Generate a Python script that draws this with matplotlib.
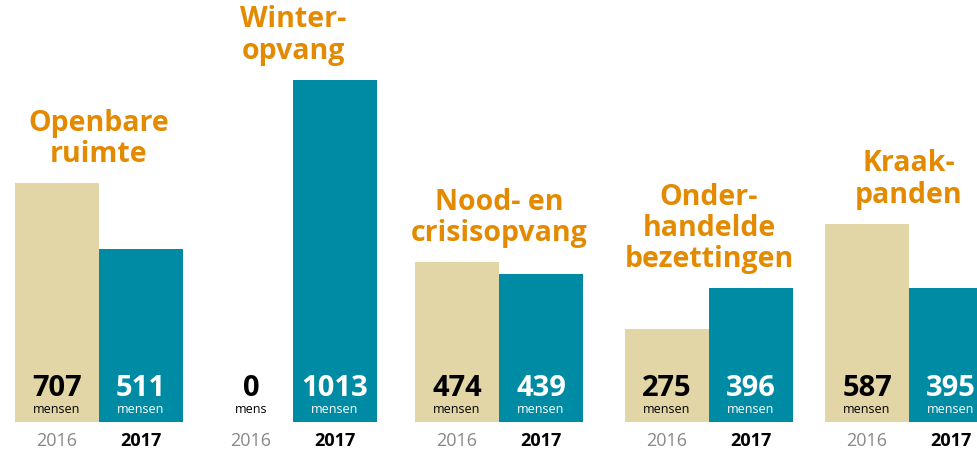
import matplotlib.pyplot as plt

# data
groups = ["Openbare\nruimte", "Winter-\nopvang", "Nood- en\ncrisisopvang",
          "Onder-\nhandelde\nbezettingen", "Kraak-\npanden"]
years = ["2016", "2017"]
vals_2016 = [707, 0, 474, 275, 587]
vals_2017 = [511, 1013, 439, 396, 395]

c_2016 = "#E3D6A6"
c_2017 = "#008BA5"
c_title = "#E38A00"

W, H = 978, 449
base_px = 422      # bar baseline, pixels from top
scale = 0.338      # pixels per person


def py(p):
    # pixel row (from top) -> data y
    return (base_px - p) / scale


plt.rcParams['font.family'] = ['Open Sans', 'DejaVu Sans']

fig = plt.figure(figsize=(W / 100, H / 100), dpi=100)
ax = fig.add_axes([0, 0, 1, 1])
ax.set_xlim(0, W)
ax.set_ylim(py(H), py(0))
ax.axis('off')

centers = [99, 293, 499, 709, 909]
bw = 84

for i, c in enumerate(centers):
    v16, v17 = vals_2016[i], vals_2017[i]
    ax.bar(c - bw / 2, v16, width=bw, color=c_2016)
    ax.bar(c + bw / 2, v17, width=bw, color=c_2017)

    for x, v, col in [(c - bw / 2, v16, "black"),
                      (c + bw / 2, v17, "white")]:
        ax.text(x, py(396), str(v), ha='center', va='baseline',
                fontsize=21, fontweight='bold', color=col)
        ax.text(x, py(413), "mens" if v == 0 else "mensen",
                ha='center', va='baseline', fontsize=9, color=col)

    ax.text(c - bw / 2, py(446), years[0], ha='center', va='baseline',
            fontsize=13, color="#888888")
    ax.text(c + bw / 2, py(446), years[1], ha='center', va='baseline',
            fontsize=13, fontweight='bold', color="black")

    top = max(v16, v17)
    ax.text(c, top + 21 / scale, groups[i], ha='center', va='baseline',
            multialignment='center', fontsize=20.5, fontweight='bold',
            color=c_title, linespacing=1.1)

fig.savefig("out.png", dpi=100)
